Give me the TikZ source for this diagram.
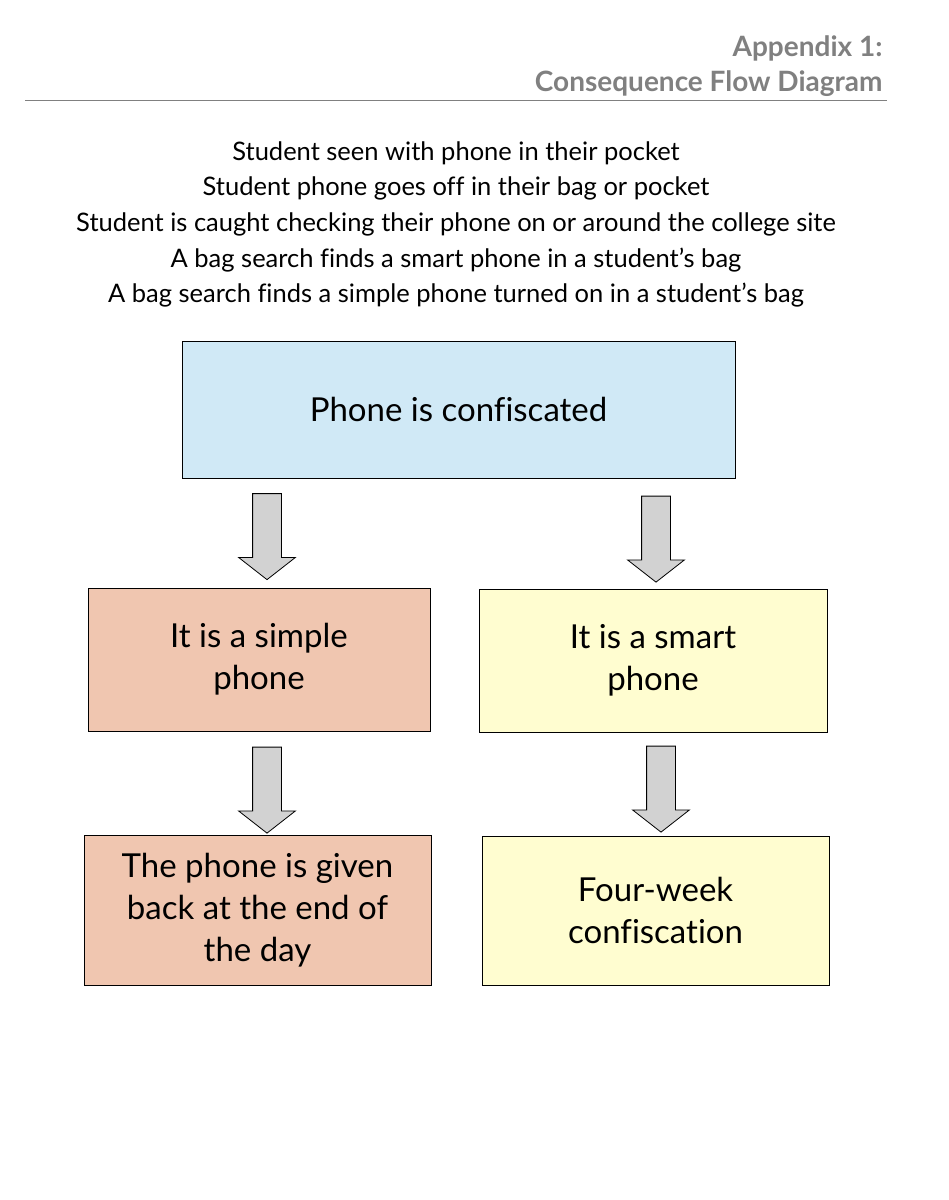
\documentclass[tikz,border=0pt]{standalone}
\usepackage{fontspec}
\setmainfont{Lato}[Ligatures=NoCommon]
\usetikzlibrary{positioning,shapes.arrows}
\definecolor{hdrgray}{RGB}{128,128,128}
\definecolor{confblue}{RGB}{208,233,246}
\definecolor{simplesalmon}{RGB}{240,198,176}
\definecolor{smartyellow}{RGB}{255,253,208}
\definecolor{arrowgray}{RGB}{210,210,210}
\tikzset{
  box/.style={draw,line width=0.8pt,align=center,inner sep=0pt,font=\fontsize{33}{42}\selectfont},
  downarrow/.style={draw,fill=arrowgray,line width=0.8pt,single arrow,shape border rotate=270,
    minimum height=86pt,single arrow head extend=14pt,
    single arrow tip angle=104,inner sep=14pt},
  case/.style={font=\fontsize{25.5}{30}\selectfont}
}
\begin{document}
\begin{tikzpicture}[x=1pt,y=-1pt]
\useasboundingbox (0,0) rectangle (949,1200);
\node[anchor=east,text=hdrgray,font=\bfseries\fontsize{28}{32}\selectfont] (app) at (886,48) {Appendix 1:};
\node[anchor=east,text=hdrgray,font=\bfseries\fontsize{28}{32}\selectfont] (title) at (886,84) {Consequence Flow Diagram};
\draw[hdrgray,line width=0.8pt] (25,100) -- (887,100);
\node[case] (c1) at (456,153) {Student seen with phone in their pocket};
\node[case] (c2) at (456,188) {Student phone goes off in their bag or pocket};
\node[case] (c3) at (456,224) {Student is caught checking their phone on or around the college site};
\node[case] (c4) at (456,260) {A bag search finds a smart phone in a student’s bag};
\node[case] (c5) at (456,295) {A bag search finds a simple phone turned on in a student’s bag};

\node[box,fill=confblue,minimum width=553pt,minimum height=137pt] (conf) at (458.5,409.5) {Phone is confiscated};
\node[downarrow] (a1) at (267,531) {};
\node[downarrow] (a2) at (656,533.5) {};
\node[box,fill=simplesalmon,minimum width=342pt,minimum height=143pt] (simple) at (259,659.5) {It is a simple\\phone};
\node[box,fill=smartyellow,minimum width=348pt,minimum height=143pt] (smart) at (653,660.5) {It is a smart\\phone};
\node[downarrow] (a3) at (267,784.5) {};
\node[downarrow] (a4) at (661,783.5) {};
\node[box,fill=simplesalmon,minimum width=347pt,minimum height=150pt] (back) at (257.5,910) {The phone is given\\back at the end of\\the day};
\node[box,fill=smartyellow,minimum width=347pt,minimum height=149pt] (four) at (655.5,910.5) {Four-week\\confiscation};
\end{tikzpicture}
\end{document}
